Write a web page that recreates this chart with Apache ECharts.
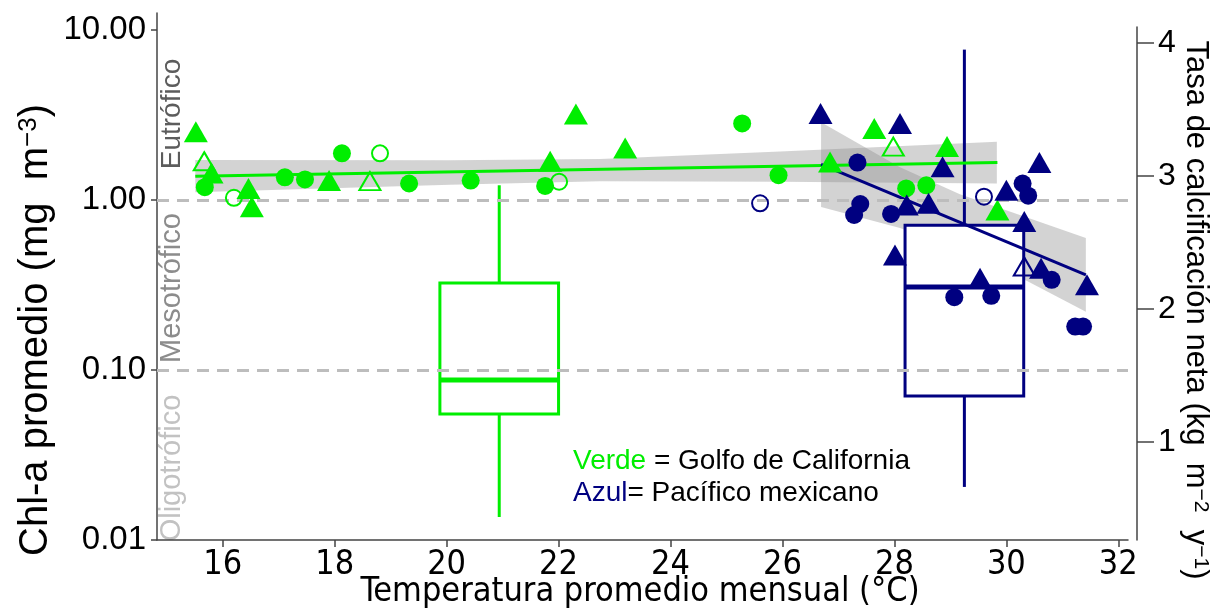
<!DOCTYPE html>
<html><head><meta charset="utf-8">
<script src="https://cdn.jsdelivr.net/npm/echarts@6/dist/echarts.min.js"></script>
<style>html,body{margin:0;padding:0;background:#fff}#c{width:1221px;height:616px}</style>
</head><body><div id="c"></div>
<script>
// ---------- data ----------
const xTicks = [16, 18, 20, 22, 24, 26, 28, 30, 32];
const chlTicks = [0.01, 0.1, 1, 10];
const calcTicks = [1, 2, 3, 4];
const trophicLimits = [0.1, 1];

// Golfo de California (verde): [temperatura °C, Chl-a mg m-3]
const golfoTriLleno = [[15.52,2.52],[15.80,1.44],[16.46,1.17],[16.52,0.913],[17.90,1.30],[22.31,3.20],[21.85,1.69],[23.19,2.02],[26.85,1.67],[27.64,2.63],[28.94,2.06],[29.84,0.874]];
const golfoCircLleno = [[15.68,1.19],[17.11,1.36],[17.47,1.32],[18.13,1.88],[19.33,1.25],[20.43,1.30],[21.76,1.21],[25.28,2.82],[25.93,1.40],[28.21,1.17],[28.57,1.22]];
const golfoCircVacio = [[16.20,1.03],[18.81,1.88],[22.01,1.28]];
const golfoTriVacio = [[15.67,1.69],[18.63,1.29],[27.98,2.06]];

// Pacífico mexicano (azul)
const pacTriLleno = [[26.68,3.23],[28.10,2.82],[28.86,1.57],[28.22,0.935],[28.61,0.956],[30.00,1.14],[30.59,1.66],[30.32,0.746],[28.01,0.475],[29.53,0.347],[30.62,0.397],[31.44,0.317]];
const pacCircLleno = [[27.34,1.66],[27.39,0.947],[27.28,0.816],[27.94,0.828],[30.29,1.25],[30.39,1.06],[30.81,0.339],[29.07,0.268],[29.73,0.273],[31.23,0.180],[31.37,0.180]];
const pacCircVacio = [[25.60,0.956],[29.60,1.045]];
const pacTriVacio = [[30.32,0.406]];

// regression lines (Chl-a) and confidence bands
const golfoLinea = [[15.51,1.38],[29.84,1.66]];
const golfoBandaX = [15.51, 20.06, 22.74, 25.96, 29.83];
const golfoBandaLo = [1.11, 1.23, 1.29, 1.28, 1.25];
const golfoBandaHi = [1.72, 1.71, 1.74, 1.93, 2.20];
const pacLinea = [[26.69,1.62],[31.42,0.363]];
const pacBandaX = [26.69, 28.10, 29.17, 30.37, 31.42];
const pacBandaLo = [0.910, 0.685, 0.509, 0.334, 0.220];
const pacBandaHi = [2.87, 1.56, 1.08, 0.79, 0.598];

// box plots of calcification rate: [centre °C, min, q1, median, q3, max]
const boxGolfo = [20.94, 0.436, 1.21, 1.466, 2.195, 2.93];
const boxPac = [29.25, 0.662, 1.346, 2.165, 2.63, 3.95];

// ---------- styling ----------
const VERDE = '#00ee00', AZUL = '#000080';
const NARROW = '"Liberation Sans Narrow","Arial Narrow","DejaVu Sans Condensed","Liberation Sans",sans-serif';
const SANS = '"Liberation Sans",Arial,Helvetica,sans-serif';
const boxHalf = 1.06;
const xMin = 14.826, xMax = 32.173;
const lg = v => Math.log10(v);
const toLog = arr => arr.map(p => [p[0], lg(p[1])]);

function scatter(data, symbol, color, filled) {
  const tri = symbol === 'triangle';
  return {
    type: 'scatter', xAxisIndex: 0, yAxisIndex: 0, z: 6, silent: true,
    symbol: symbol,
    symbolSize: tri ? (filled ? [24, 21] : [21, 18]) : (filled ? 18 : 16),
    data: toLog(data),
    itemStyle: filled ? { color: color, opacity: 1 } : { color: 'rgba(0,0,0,0)', borderColor: color, borderWidth: 2, opacity: 1 }
  };
}
function band(xs, lo, hi) {
  return {
    type: 'custom', xAxisIndex: 0, yAxisIndex: 0, z: 1, silent: true,
    data: [[xs[0], lg(lo[0])]],
    renderItem: (params, api) => {
      const pts = [];
      for (let i = 0; i < xs.length; i++) pts.push(api.coord([xs[i], lg(hi[i])]));
      for (let i = xs.length - 1; i >= 0; i--) pts.push(api.coord([xs[i], lg(lo[i])]));
      return { type: 'polygon', shape: { points: pts }, style: { fill: 'rgba(140,140,140,0.38)' } };
    }
  };
}
function line(data, color) {
  return {
    type: 'line', xAxisIndex: 0, yAxisIndex: 0, z: 4, silent: true, symbol: 'none',
    data: toLog(data), lineStyle: { color: color, width: 3 }
  };
}
const boxColors = [VERDE, AZUL];
const boxSeries = {
  type: 'custom', xAxisIndex: 1, yAxisIndex: 1, z: 2, silent: true,
  data: [boxGolfo, boxPac],
  renderItem: (params, api) => {
    const c = boxColors[params.dataIndex];
    const xc = api.value(0), lo = api.value(1), q1 = api.value(2), md = api.value(3), q3 = api.value(4), hi = api.value(5);
    const top = api.coord([xc, hi]), bot = api.coord([xc, lo]);
    const tl = api.coord([xc - boxHalf, q3]), br = api.coord([xc + boxHalf, q1]);
    const mL = api.coord([xc - boxHalf, md]), mR = api.coord([xc + boxHalf, md]);
    return {
      type: 'group', children: [
        { type: 'line', shape: { x1: top[0], y1: top[1], x2: top[0], y2: tl[1] }, style: { stroke: c, lineWidth: 3 } },
        { type: 'line', shape: { x1: bot[0], y1: br[1], x2: bot[0], y2: bot[1] }, style: { stroke: c, lineWidth: 3 } },
        { type: 'rect', shape: { x: tl[0], y: tl[1], width: br[0] - tl[0], height: br[1] - tl[1] }, style: { fill: '#fff', stroke: c, lineWidth: 3 } },
        { type: 'line', shape: { x1: mL[0], y1: mL[1], x2: mR[0], y2: mR[1] }, style: { stroke: c, lineWidth: 5 } }
      ]
    };
  }
};

const chart = echarts.init(document.getElementById('c'), null, { renderer: 'canvas' });
chart.setOption({
  animation: false,
  backgroundColor: '#fff',
  grid: [
    { left: 157, right: 93, top: 13, bottom: 76 },
    { left: 157, right: 93, top: 27, bottom: 76 }
  ],
  xAxis: [
    {
      type: 'value', gridIndex: 0, min: xMin, max: xMax,
      axisLine: { show: true, onZero: false, lineStyle: { color: '#444', width: 1.5 } },
      axisTick: { show: true, length: 7, customValues: xTicks, lineStyle: { color: '#444', width: 1.5 } },
      axisLabel: { customValues: xTicks, color: '#000', fontSize: 34, fontFamily: NARROW, margin: 8 },
      splitLine: { show: false }
    },
    { type: 'value', gridIndex: 1, min: xMin, max: xMax, show: false }
  ],
  yAxis: [
    {
      type: 'value', gridIndex: 0, min: -2, max: 1.0998,
      axisLine: { show: true, onZero: false, lineStyle: { color: '#444', width: 1.5 } },
      axisTick: { show: true, length: 6, customValues: chlTicks.map(lg), lineStyle: { color: '#444', width: 1.5 } },
      axisLabel: { customValues: chlTicks.map(lg), formatter: v => Math.pow(10, v).toFixed(2), color: '#000', fontSize: 33, fontFamily: SANS, margin: 11 },
      splitLine: { show: false }
    },
    {
      type: 'value', gridIndex: 1, position: 'right', offset: 9, min: 0.263, max: 4.12,
      axisLine: { show: true, onZero: false, lineStyle: { color: '#444', width: 1.5 } },
      axisTick: { show: true, length: 17, customValues: calcTicks, lineStyle: { color: '#444', width: 1.5 } },
      axisLabel: { customValues: calcTicks, color: '#000', fontSize: 32, fontFamily: SANS, margin: 21 },
      splitLine: { show: false }
    }
  ],
  series: [
    {
      type: 'line', xAxisIndex: 0, yAxisIndex: 0, data: [], z: 3, silent: true,
      markLine: {
        silent: true, symbol: 'none', label: { show: false },
        lineStyle: { color: '#bdbdbd', type: [12, 8], width: 3 },
        data: trophicLimits.map(v => ({ yAxis: lg(v) }))
      }
    },
    band(golfoBandaX, golfoBandaLo, golfoBandaHi),
    band(pacBandaX, pacBandaLo, pacBandaHi),
    boxSeries,
    line(golfoLinea, VERDE),
    line(pacLinea, AZUL),
    scatter(golfoTriLleno, 'triangle', VERDE, true),
    scatter(golfoCircLleno, 'circle', VERDE, true),
    scatter(golfoCircVacio, 'circle', VERDE, false),
    scatter(golfoTriVacio, 'triangle', VERDE, false),
    scatter(pacTriLleno, 'triangle', AZUL, true),
    scatter(pacCircLleno, 'circle', AZUL, true),
    scatter(pacCircVacio, 'circle', AZUL, false),
    scatter(pacTriVacio, 'triangle', AZUL, false)
  ],
  graphic: [
    { type: 'text', x: 640, y: 592, silent: true,
      style: { text: 'Temperatura promedio mensual (°C)', font: '34px ' + NARROW, fill: '#000', align: 'center', verticalAlign: 'middle' } },
    { type: 'text', x: 36, y: 330, rotation: Math.PI / 2, silent: true,
      style: { text: '{n|Chl-a promedio (mg  m}{s|−3}{n|)}', align: 'center', verticalAlign: 'middle',
        rich: { n: { font: '40px ' + SANS, fill: '#000', verticalAlign: 'bottom' }, s: { font: '26px ' + SANS, fill: '#000', verticalAlign: 'top' } } } },
    { type: 'text', x: 1196, y: 310, rotation: -Math.PI / 2, silent: true,
      style: { text: '{n|Tasa de calcificación neta (kg  m}{s|−2}{n|  y}{s|−1}{n|)}', align: 'center', verticalAlign: 'middle',
        rich: { n: { font: '31px ' + SANS, fill: '#000', verticalAlign: 'bottom' }, s: { font: '21px ' + SANS, fill: '#000', verticalAlign: 'top' } } } },
    { type: 'text', x: 172, y: 114, rotation: Math.PI / 2, silent: true,
      style: { text: 'Eutrófico', font: '28px ' + SANS, fill: '#5c5c5c', align: 'center', verticalAlign: 'middle' } },
    { type: 'text', x: 172, y: 288, rotation: Math.PI / 2, silent: true,
      style: { text: 'Mesotrófico', font: '29px ' + SANS, fill: '#8c8c8c', align: 'center', verticalAlign: 'middle' } },
    { type: 'text', x: 172, y: 468, rotation: Math.PI / 2, silent: true,
      style: { text: 'Oligotrófico', font: '29px ' + SANS, fill: '#c2c2c2', align: 'center', verticalAlign: 'middle' } },
    { type: 'text', x: 573, y: 461, silent: true,
      style: { text: '{g|Verde}{k| = Golfo de California}', align: 'left', verticalAlign: 'middle',
        rich: { g: { font: '28px ' + SANS, fill: VERDE }, k: { font: '28px ' + SANS, fill: '#000' } } } },
    { type: 'text', x: 573, y: 493, silent: true,
      style: { text: '{b|Azul}{k|= Pacífico mexicano}', align: 'left', verticalAlign: 'middle',
        rich: { b: { font: '28px ' + SANS, fill: AZUL }, k: { font: '28px ' + SANS, fill: '#000' } } } }
  ]
});
</script>
</body></html>
